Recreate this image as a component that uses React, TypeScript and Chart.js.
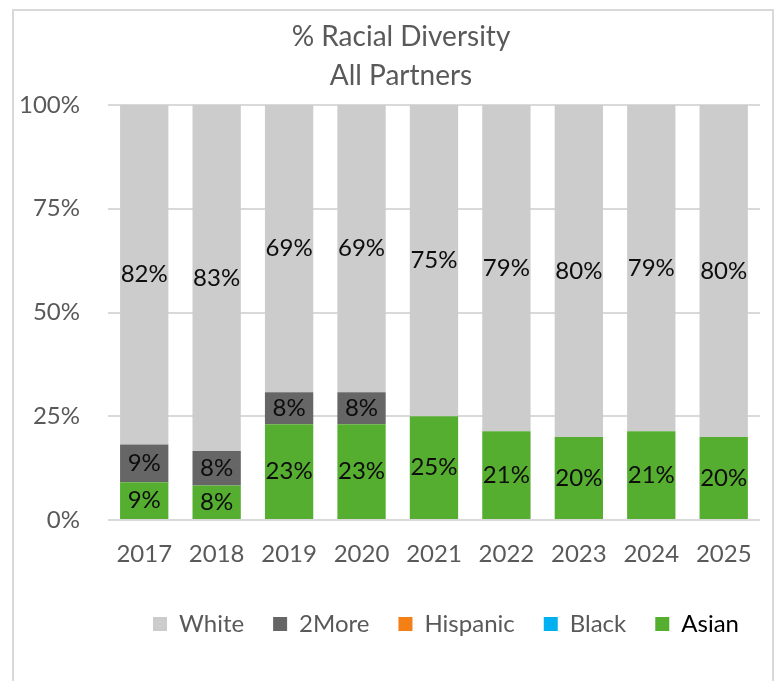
import React, { useEffect, useRef } from "react";
import { Chart, registerables } from "chart.js";

Chart.register(...registerables);

const years = ["2017", "2018", "2019", "2020", "2021", "2022", "2023", "2024", "2025"];
const asian = [9.1, 8.3, 23.1, 23.1, 25, 21.4, 20, 21.4, 20];
const black = [0, 0, 0, 0, 0, 0, 0, 0, 0];
const hispanic = [0, 0, 0, 0, 0, 0, 0, 0, 0];
const twoMore = [9.1, 8.3, 7.7, 7.7, 0, 0, 0, 0, 0];
const white = [81.8, 83.4, 69.2, 69.2, 75, 78.6, 80, 78.6, 80];
const titleLines = ["% Racial Diversity", "All Partners"];

const FONT = "Lato, 'Noto Sans', sans-serif";

const dataLabels = {
  id: "dataLabels",
  afterDatasetsDraw(chart: any) {
    const ctx = chart.ctx;
    ctx.save();
    ctx.font = `24px ${FONT}`;
    ctx.fillStyle = "#0d0d0d";
    ctx.textAlign = "center";
    ctx.textBaseline = "middle";
    chart.data.datasets.forEach((ds: any, i: number) => {
      const meta = chart.getDatasetMeta(i);
      if (meta.hidden) return;
      meta.data.forEach((el: any, j: number) => {
        const v = ds.data[j];
        if (!v) return;
        const y = (el.y + el.base) / 2;
        ctx.fillText(Math.round(v) + "%", el.x, y);
      });
    });
    ctx.restore();
  },
};

const shiftBlocks = {
  id: "shiftBlocks",
  afterLayout(chart: any) {
    const t = chart.titleBlock;
    if (t) {
      const dx = 387 - (t.left + t.right) / 2;
      t.left += dx;
      t.right += dx;
    }
    const l = chart.legend;
    if (l) {
      const dx = 432 - (l.left + l.right) / 2;
      l.left += dx;
      l.right += dx;
    }
  },
};

export default function App() {
  const ref = useRef<HTMLCanvasElement | null>(null);
  useEffect(() => {
    if (!ref.current) return;
    const chart = new Chart(ref.current, {
      type: "bar",
      data: {
        labels: years,
        datasets: [
          { label: "Asian", data: asian, backgroundColor: "#56ae31" },
          { label: "Black", data: black, backgroundColor: "#00b0f0" },
          { label: "Hispanic", data: hispanic, backgroundColor: "#f47f17" },
          { label: "2More", data: twoMore, backgroundColor: "#666666" },
          { label: "White", data: white, backgroundColor: "#cccccc" },
        ],
      },
      plugins: [dataLabels, shiftBlocks],
      options: {
        animation: false,
        responsive: true,
        maintainAspectRatio: false,
        layout: { padding: { left: 0, right: 8, top: 0, bottom: 45 } },
        datasets: {
          bar: { categoryPercentage: 0.667, barPercentage: 1, borderWidth: 0 },
        },
        scales: {
          x: {
            stacked: true,
            grid: { display: false, drawTicks: false },
            border: { display: false },
            ticks: { color: "#595959", font: { family: FONT, size: 24 }, padding: 20, maxRotation: 0 },
            afterFit: (axis: any) => {
              axis.height = 63;
            },
          },
          y: {
            stacked: true,
            min: 0,
            max: 100,
            grid: { color: "#d9d9d9", lineWidth: 2, drawTicks: false },
            border: { display: false },
            ticks: {
              stepSize: 25,
              color: "#595959",
              font: { family: FONT, size: 24 },
              padding: 28,
              callback: (v: any) => v + "%",
            },
            afterFit: (axis: any) => {
              axis.width = 94;
            },
          },
        },
        plugins: {
          tooltip: { enabled: false },
          title: {
            display: true,
            text: titleLines,
            color: "#595959",
            font: { family: FONT, size: 28, weight: "normal", lineHeight: 1.384 },
            padding: { top: 7, bottom: 9.5 },
          },
          legend: {
            display: true,
            position: "bottom",
            reverse: true,
            labels: {
              boxWidth: 14,
              boxHeight: 14,
              padding: 29,
              color: "#595959",
              font: { family: FONT, size: 24 },
              generateLabels: (chart: any) => {
                const items = Chart.defaults.plugins.legend.labels.generateLabels(chart);
                items.forEach((it: any) => {
                  it.lineWidth = 0;
                  if (it.text === "Asian") it.fontColor = "#000000";
                });
                return items;
              },
            },
          },
        },
      } as any,
    });
    return () => chart.destroy();
  }, []);

  return (
    <div
      style={{
        position: "absolute",
        left: 12,
        top: 9,
        width: 758,
        height: 680,
        border: "2px solid #d9d9d9",
        background: "#ffffff",
      }}
    >
      <div style={{ position: "relative", width: 758, height: 680 }}>
        <canvas ref={ref} />
      </div>
    </div>
  );
}
